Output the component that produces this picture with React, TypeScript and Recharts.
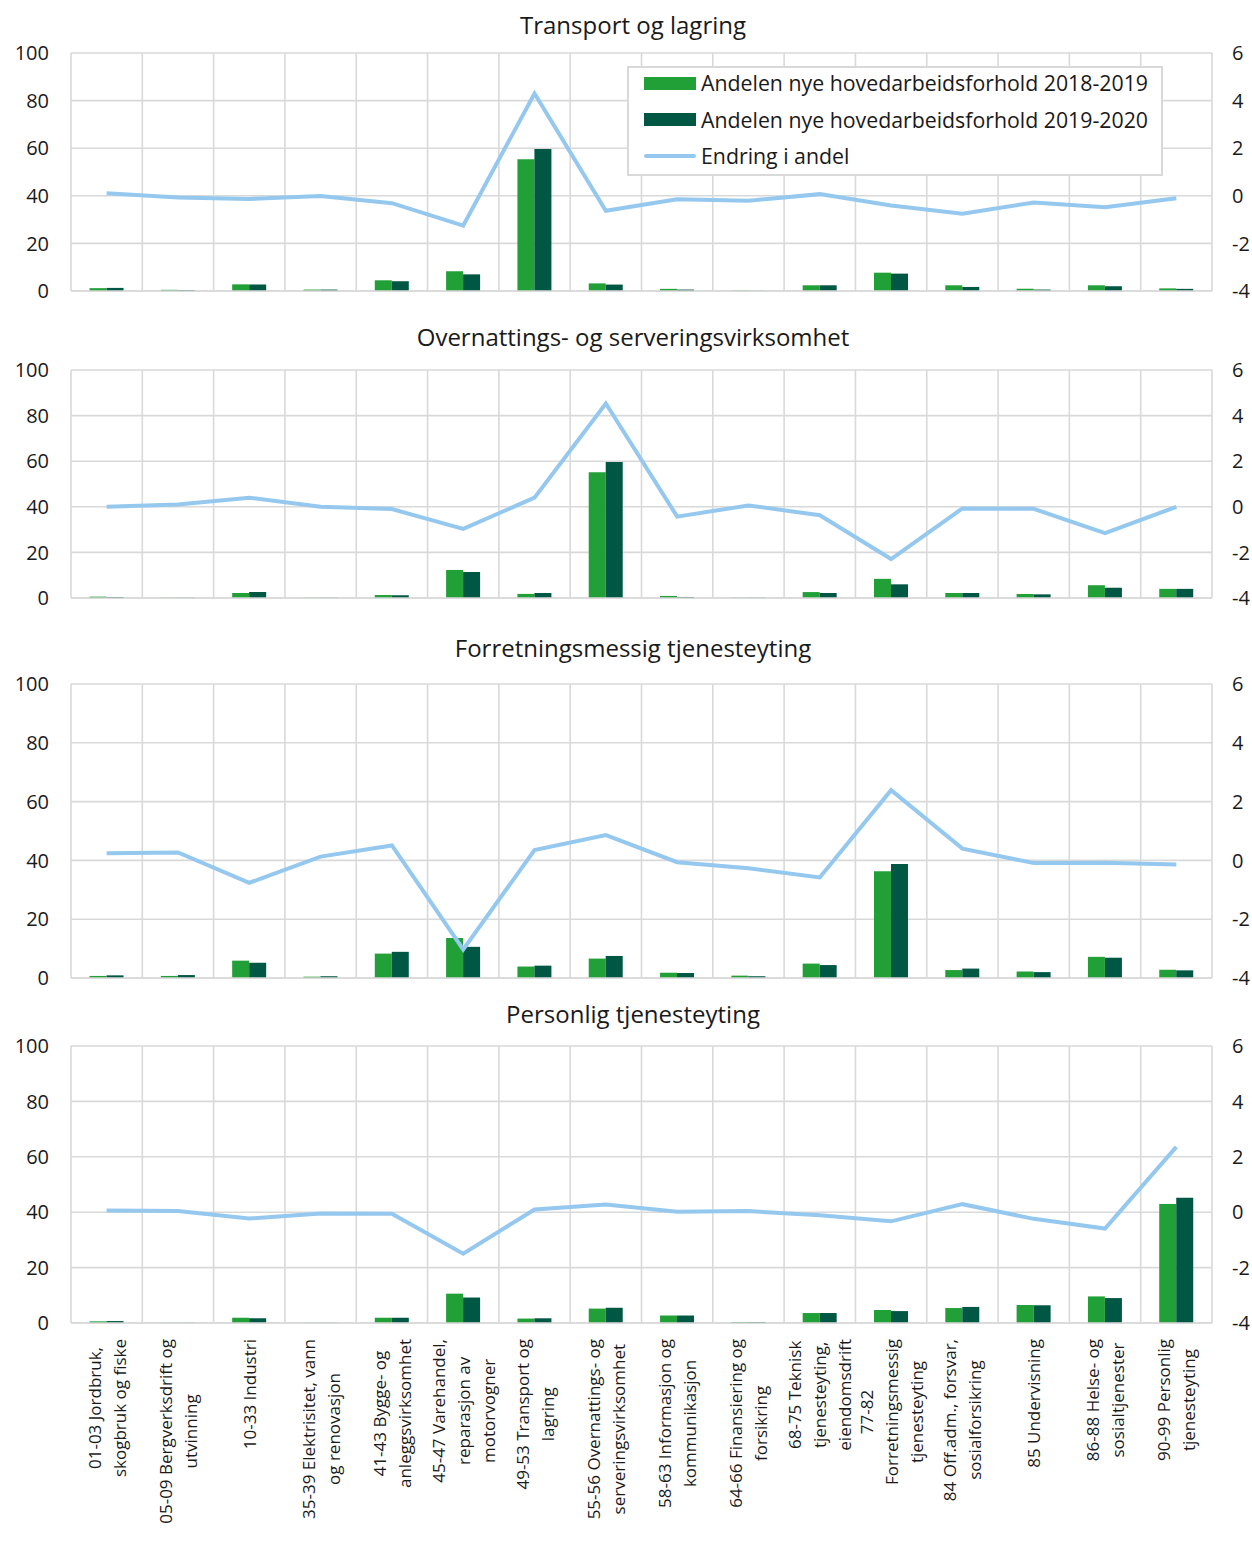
import {
  ComposedChart,
  Bar,
  Line,
  XAxis,
  YAxis,
  CartesianGrid,
  Legend,
} from "recharts";

const categories = [
  "01-03 Jordbruk,\nskogbruk og fiske",
  "05-09 Bergverksdrift og\nutvinning",
  "10-33 Industri",
  "35-39 Elektrisitet, vann\nog renovasjon",
  "41-43 Bygge- og\nanleggsvirksomhet",
  "45-47 Varehandel,\nreparasjon av\nmotorvogner",
  "49-53 Transport og\nlagring",
  "55-56 Overnattings- og\nserveringsvirksomhet",
  "58-63 Informasjon og\nkommunikasjon",
  "64-66 Finansiering og\nforsikring",
  "68-75 Teknisk\ntjenesteyting,\neiendomsdrift",
  "77-82\nForretningsmessig\ntjenesteyting",
  "84 Off.adm., forsvar,\nsosialforsikring",
  "85 Undervisning",
  "86-88 Helse- og\nsosialtjenester",
  "90-99 Personlig\ntjenesteyting",
];

const leftTicks = [0, 20, 40, 60, 80, 100];
const rightTicks = [-4, -2, 0, 2, 4, 6];

const seriesNames = [
  "Andelen nye hovedarbeidsforhold 2018-2019",
  "Andelen nye hovedarbeidsforhold 2019-2020",
  "Endring i andel",
];

// Transport og lagring
const transport2018 = [1.2, 0.5, 2.8, 0.6, 4.5, 8.3, 55.4, 3.2, 0.9, 0.2, 2.4, 7.7, 2.4, 0.9, 2.4, 1.1];
const transport2019 = [1.3, 0.4, 2.7, 0.6, 4.1, 7.0, 59.7, 2.7, 0.6, 0.1, 2.4, 7.3, 1.7, 0.6, 2.0, 0.9];
const transportChange = [0.11, -0.07, -0.13, -0.01, -0.31, -1.25, 4.3, -0.63, -0.15, -0.21, 0.07, -0.41, -0.75, -0.28, -0.48, -0.1];

// Overnattings- og serveringsvirksomhet
const hotel2018 = [0.6, 0.15, 2.2, 0.15, 1.3, 12.3, 1.8, 55.1, 0.9, 0.15, 2.6, 8.4, 2.2, 1.8, 5.6, 4.0];
const hotel2019 = [0.45, 0.15, 2.6, 0.15, 1.2, 11.4, 2.2, 59.7, 0.45, 0.15, 2.2, 6.0, 2.2, 1.6, 4.5, 4.0];
const hotelChange = [0.0, 0.1, 0.4, 0.0, -0.1, -0.97, 0.4, 4.53, -0.43, 0.06, -0.37, -2.29, -0.07, -0.09, -1.16, 0.0];

// Forretningsmessig tjenesteyting
const business2018 = [0.7, 0.7, 5.9, 0.45, 8.3, 13.6, 3.9, 6.6, 1.8, 0.8, 4.9, 36.3, 2.7, 2.2, 7.2, 2.8];
const business2019 = [0.9, 1.0, 5.2, 0.6, 8.9, 10.6, 4.2, 7.5, 1.7, 0.6, 4.4, 38.8, 3.2, 2.0, 6.9, 2.6];
const businessChange = [0.24, 0.27, -0.76, 0.13, 0.51, -3.03, 0.35, 0.86, -0.06, -0.27, -0.58, 2.39, 0.4, -0.09, -0.08, -0.14];

// Personlig tjenesteyting
const personal2018 = [0.6, 0.1, 1.9, 0.1, 1.9, 10.6, 1.6, 5.2, 2.7, 0.35, 3.6, 4.7, 5.4, 6.5, 9.6, 43.0];
const personal2019 = [0.7, 0.1, 1.7, 0.1, 1.9, 9.2, 1.7, 5.5, 2.7, 0.35, 3.6, 4.3, 5.8, 6.4, 9.0, 45.2];
const personalChange = [0.06, 0.04, -0.23, -0.05, -0.06, -1.5, 0.1, 0.28, 0.02, 0.04, -0.11, -0.33, 0.29, -0.24, -0.59, 2.36];

const FONT = "'Open Sans', 'Noto Sans', sans-serif";
const TEXT = "#1a1a1a";
const GREEN = "#21a038";
const DARK = "#005744";
const BLUE = "#95c8ee";
const GRID = "#d9d9d9";

const buildRows = (a: number[], b: number[], c: number[]) =>
  categories.map((name, i) => ({ name, a: a[i], b: b[i], c: c[i] }));

// vertical grid lines sit between categories, not on them
const boundaryLines = ({ offset }: any) => {
  const n = categories.length;
  const out: number[] = [];
  for (let i = 0; i <= n; i++) out.push(offset.left + (offset.width * i) / n);
  return out;
};

let ctx: CanvasRenderingContext2D | null = null;
const measure = (s: string, size: number) => {
  if (!ctx) ctx = document.createElement("canvas").getContext("2d");
  if (!ctx) return s.length * size * 0.55;
  ctx.font = `${size}px 'Open Sans'`;
  return ctx.measureText(s).width;
};

const CategoryTick = ({ x, y, payload }: any) => {
  const lines = String(payload.value).split("\n");
  const size = 17;
  const lh = 25;
  const maxW = Math.max(...lines.map((l) => measure(l, size)));
  return (
    <g transform={`translate(${x},${y + 14})`}>
      {lines.map((l, i) => (
        <text
          key={i}
          transform="rotate(-90)"
          x={-maxW / 2}
          y={(i - (lines.length - 1) / 2) * lh}
          textAnchor="middle"
          dominantBaseline="central"
          fontSize={size}
          fontFamily={FONT}
          fill={TEXT}
        >
          {l}
        </text>
      ))}
    </g>
  );
};

const LegendBox = () => (
  <div
    style={{
      border: `2px solid ${GRID}`,
      background: "#fff",
      boxSizing: "border-box",
      width: 536,
      height: 110,
      padding: "0 0 0 15px",
      fontFamily: FONT,
      fontSize: 21.3,
      color: TEXT,
    }}
  >
    {seriesNames.map((s, i) => (
      <div
        key={s}
        style={{ display: "flex", alignItems: "center", height: 36.5, marginTop: i === 0 ? -3 : 0 }}
      >
        <span
          style={{
            display: "inline-block",
            width: 52,
            height: i < 2 ? 13 : 4,
            borderRadius: i < 2 ? 0 : 2,
            background: [GREEN, DARK, BLUE][i],
            marginRight: 5,
          }}
        />
        <span style={{ whiteSpace: "nowrap", lineHeight: "24px" }}>{s}</span>
      </div>
    ))}
  </div>
);

type PanelProps = {
  title: string;
  titleTop: number;
  plotTop: number;
  plotHeight: number;
  a: number[];
  b: number[];
  c: number[];
  labels?: boolean;
  legend?: boolean;
};

function Panel({ title, titleTop, plotTop, plotHeight, a, b, c, labels, legend }: PanelProps) {
  const axisH = labels ? 220 : 16;
  const padTop = 16;
  const top = plotTop - padTop;
  return (
    <>
      <div
        style={{
          position: "absolute",
          left: 633,
          top: titleTop,
          transform: "translateX(-50%)",
          whiteSpace: "nowrap",
          fontFamily: FONT,
          fontSize: 24,
          lineHeight: "24px",
          color: TEXT,
        }}
      >
        {title}
      </div>
      <div style={{ position: "absolute", left: 0, top }}>
        <ComposedChart
          width={1252}
          height={padTop + plotHeight + axisH}
          data={buildRows(a, b, c)}
          margin={{ top: padTop, right: 0, bottom: 0, left: 0 }}
          barCategoryGap="26%"
          barGap={0}
        >
          <CartesianGrid
            yAxisId="left"
            stroke={GRID}
            strokeWidth={1.6}
            verticalCoordinatesGenerator={boundaryLines}
          />
          <XAxis
            dataKey="name"
            interval={0}
            height={axisH}
            axisLine={{ stroke: GRID, strokeWidth: 1.6 }}
            tickLine={false}
            tickSize={0}
            tick={labels ? <CategoryTick /> : false}
          />
          <YAxis
            yAxisId="left"
            domain={[0, 100]}
            ticks={leftTicks}
            interval={0}
            width={71}
            axisLine={false}
            tickLine={false}
            tickSize={0}
            tickMargin={22}
            tick={{ fontSize: 20, fontFamily: FONT, fill: TEXT }}
          />
          <YAxis
            yAxisId="right"
            orientation="right"
            domain={[-4, 6]}
            ticks={rightTicks}
            interval={0}
            width={40}
            axisLine={false}
            tickLine={false}
            tickSize={0}
            tickMargin={20}
            tick={{ fontSize: 20, fontFamily: FONT, fill: TEXT, textAnchor: "start" }}
          />
          <Bar yAxisId="left" dataKey="a" name={seriesNames[0]} fill={GREEN} isAnimationActive={false} />
          <Bar yAxisId="left" dataKey="b" name={seriesNames[1]} fill={DARK} isAnimationActive={false} />
          <Line
            yAxisId="right"
            dataKey="c"
            name={seriesNames[2]}
            type="linear"
            stroke={BLUE}
            strokeWidth={4}
            dot={false}
            activeDot={false}
            isAnimationActive={false}
          />
          {legend && (
            <Legend
              layout="vertical"
              align="center"
              verticalAlign="middle"
              content={<LegendBox />}
              wrapperStyle={{ left: 627, top: 66 - top, width: 536, height: 110 }}
            />
          )}
        </ComposedChart>
      </div>
    </>
  );
}

export default function App() {
  return (
    <div
      style={{
        position: "absolute",
        left: 0,
        top: 0,
        width: 1252,
        height: 1557,
        background: "#fff",
        overflow: "hidden",
      }}
    >
      <Panel
        title="Transport og lagring"
        titleTop={13}
        plotTop={53}
        plotHeight={238}
        a={transport2018}
        b={transport2019}
        c={transportChange}
        legend
      />
      <Panel
        title="Overnattings- og serveringsvirksomhet"
        titleTop={325}
        plotTop={370}
        plotHeight={228}
        a={hotel2018}
        b={hotel2019}
        c={hotelChange}
      />
      <Panel
        title="Forretningsmessig tjenesteyting"
        titleTop={636}
        plotTop={684}
        plotHeight={294}
        a={business2018}
        b={business2019}
        c={businessChange}
      />
      <Panel
        title="Personlig tjenesteyting"
        titleTop={1002}
        plotTop={1046}
        plotHeight={277}
        a={personal2018}
        b={personal2019}
        c={personalChange}
        labels
      />
    </div>
  );
}
